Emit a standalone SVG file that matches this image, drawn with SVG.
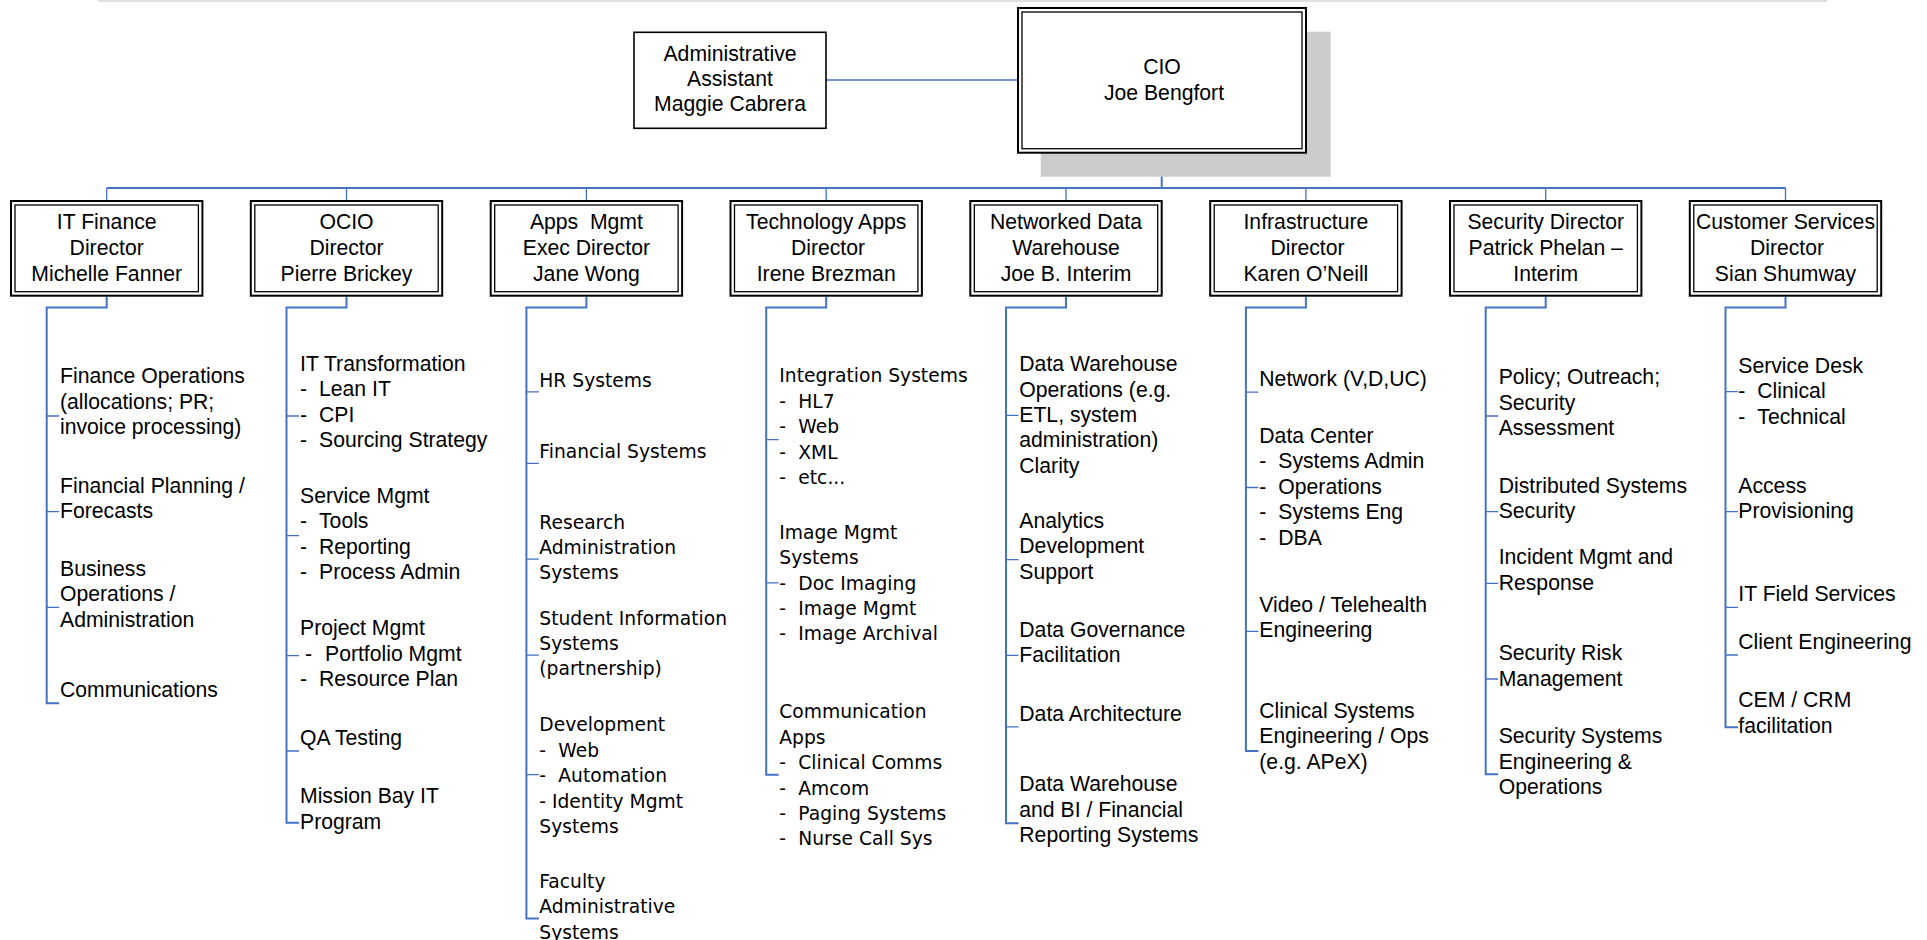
<svg xmlns="http://www.w3.org/2000/svg" width="1927" height="940" viewBox="0 0 1927 940">
  <style>
    .t { font-family: "Liberation Sans", Arial, sans-serif; font-size: 21.2px; fill: #000; }
    .v { font-family: "DejaVu Sans", Verdana, sans-serif; font-size: 18.7px; fill: #000; }
    .c { text-anchor: middle; }
    .bus { stroke: #4472C4; stroke-width: 2; fill: none; }
    .drop { stroke: #4472C4; stroke-width: 1.3; fill: none; }
    .tick { stroke: #4472C4; stroke-width: 1.3; fill: none; }
    .outer { fill: #fff; stroke: #000; stroke-width: 2; }
    .inner { fill: none; stroke: #000; stroke-width: 1.3; }
    .single { fill: #fff; stroke: #000; stroke-width: 1.6; }
  </style>

  <!-- header rule -->
  <line x1="98" y1="1" x2="1827" y2="1" stroke="#d4d4d4" stroke-width="1.5"/>

  <!-- connectors -->
  <g id="connectors">
    <line class="drop" x1="826" y1="80" x2="1018" y2="80"/>
    <line class="bus" x1="1161.7" y1="152.7" x2="1161.7" y2="188"/>
    <line class="bus" x1="106.7" y1="188" x2="1785.5" y2="188"/>
    <path class="drop" d="M106.7 188V200M346.5 188V200M586.4 188V200M826.2 188V200M1066 188V200M1305.9 188V200M1545.7 188V200M1785.5 188V200"/>

    <!-- director to list trunks -->
    <path class="bus" d="M106.7 296.7V307.5H46.7V703.3H59.2"/>
    <path class="bus" d="M346.5 296.7V307.5H286.5V822.7H299"/>
    <path class="bus" d="M586.4 296.7V307.5H526.4V918.4H538.9"/>
    <path class="bus" d="M826.2 296.7V307.5H766.2V774.7H778.7"/>
    <path class="bus" d="M1066 296.7V307.5H1006V823.2H1018.5"/>
    <path class="bus" d="M1305.9 296.7V307.5H1245.9V751H1258.4"/>
    <path class="bus" d="M1545.7 296.7V307.5H1485.7V774.3H1498.2"/>
    <path class="bus" d="M1785.5 296.7V307.5H1725.5V727.3H1738"/>

    <!-- item ticks -->
    <path class="tick" d="M46.7 416H59.2M46.7 511.7H59.2M46.7 607.3H59.2"/>
    <path class="tick" d="M286.5 416H299M286.5 535.7H299M286.5 655.7H299M286.5 751H299"/>
    <path class="tick" d="M526.4 391.8H538.9M526.4 463.3H538.9M526.4 559.2H538.9M526.4 655.1H538.9M526.4 774.7H538.9"/>
    <path class="tick" d="M766.2 439.6H778.7M766.2 582.9H778.7"/>
    <path class="tick" d="M1006 415.4H1018.5M1006 559.6H1018.5M1006 655.4H1018.5M1006 726.8H1018.5"/>
    <path class="tick" d="M1245.9 392.1H1258.4M1245.9 487.5H1258.4M1245.9 631.4H1258.4"/>
    <path class="tick" d="M1485.7 416H1498.2M1485.7 511.7H1498.2M1485.7 583.3H1498.2M1485.7 679H1498.2"/>
    <path class="tick" d="M1725.5 391.7H1738M1725.5 511.7H1738M1725.5 607.3H1738M1725.5 655H1738"/>
  </g>

  <!-- administrative assistant -->
  <g id="admin-assistant">
    <rect class="single" x="634" y="32.3" width="192" height="96"/>
    <text class="t c" x="730" y="60.7">Administrative</text>
    <text class="t c" x="730" y="86">Assistant</text>
    <text class="t c" x="730" y="111.3">Maggie Cabrera</text>
  </g>

  <!-- CIO -->
  <g id="cio">
    <rect x="1040.7" y="31.7" width="290" height="145" fill="#cccccc"/>
    <rect class="outer" x="1018" y="8" width="288" height="144.7"/>
    <rect class="inner" x="1022" y="12" width="280" height="136.7"/>
    <text class="t c" x="1162" y="74">CIO</text>
    <text class="t c" x="1164" y="100">Joe Bengfort</text>
  </g>

  <!-- directors -->
  <g id="it-finance">
    <rect class="outer" x="11" y="201" width="191.4" height="94.7"/>
    <rect class="inner" x="15" y="205" width="183.4" height="86.7"/>
    <text class="t c" x="106.7" y="229.3">IT Finance</text>
    <text class="t c" x="106.7" y="255">Director</text>
    <text class="t c" x="106.7" y="280.5">Michelle Fanner</text>
  </g>
  <g id="ocio">
    <rect class="outer" x="250.8" y="201" width="191.4" height="94.7"/>
    <rect class="inner" x="254.8" y="205" width="183.4" height="86.7"/>
    <text class="t c" x="346.5" y="229.3">OCIO</text>
    <text class="t c" x="346.5" y="255">Director</text>
    <text class="t c" x="346.5" y="280.5">Pierre Brickey</text>
  </g>
  <g id="apps-mgmt">
    <rect class="outer" x="490.7" y="201" width="191.4" height="94.7"/>
    <rect class="inner" x="494.7" y="205" width="183.4" height="86.7"/>
    <text class="t c" x="586.4" y="229.3" xml:space="preserve">Apps  Mgmt</text>
    <text class="t c" x="586.4" y="255">Exec Director</text>
    <text class="t c" x="586.4" y="280.5">Jane Wong</text>
  </g>
  <g id="technology-apps">
    <rect class="outer" x="730.5" y="201" width="191.4" height="94.7"/>
    <rect class="inner" x="734.5" y="205" width="183.4" height="86.7"/>
    <text class="t c" x="826.2" y="229.3">Technology Apps</text>
    <text class="t c" x="828" y="255">Director</text>
    <text class="t c" x="826.2" y="280.5">Irene Brezman</text>
  </g>
  <g id="networked-data-warehouse">
    <rect class="outer" x="970.3" y="201" width="191.4" height="94.7"/>
    <rect class="inner" x="974.3" y="205" width="183.4" height="86.7"/>
    <text class="t c" x="1066" y="229.3">Networked Data</text>
    <text class="t c" x="1066" y="255">Warehouse</text>
    <text class="t c" x="1066" y="280.5">Joe B. Interim</text>
  </g>
  <g id="infrastructure">
    <rect class="outer" x="1210.2" y="201" width="191.4" height="94.7"/>
    <rect class="inner" x="1214.2" y="205" width="183.4" height="86.7"/>
    <text class="t c" x="1305.9" y="229.3">Infrastructure</text>
    <text class="t c" x="1307.5" y="255">Director</text>
    <text class="t c" x="1305.9" y="280.5">Karen O’Neill</text>
  </g>
  <g id="security">
    <rect class="outer" x="1450" y="201" width="191.4" height="94.7"/>
    <rect class="inner" x="1454" y="205" width="183.4" height="86.7"/>
    <text class="t c" x="1545.7" y="229.3">Security Director</text>
    <text class="t c" x="1545.7" y="255">Patrick Phelan –</text>
    <text class="t c" x="1545.7" y="280.5">Interim</text>
  </g>
  <g id="customer-services">
    <rect class="outer" x="1689.8" y="201" width="191.4" height="94.7"/>
    <rect class="inner" x="1693.8" y="205" width="183.4" height="86.7"/>
    <text class="t c" x="1785.5" y="229.3">Customer Services</text>
    <text class="t c" x="1787" y="255">Director</text>
    <text class="t c" x="1785.5" y="280.5">Sian Shumway</text>
  </g>

  <!-- IT Finance functions -->
  <g id="it-finance-items" class="t">
    <text x="60" y="383.3">Finance Operations</text>
    <text x="60" y="408.8">(allocations; PR;</text>
    <text x="60" y="434.3">invoice processing)</text>
    <text x="60" y="492.7">Financial Planning /</text>
    <text x="60" y="518.2">Forecasts</text>
    <text x="60" y="575.8">Business</text>
    <text x="60" y="601.3">Operations /</text>
    <text x="60" y="626.8">Administration</text>
    <text x="60" y="696.7">Communications</text>
  </g>

  <!-- OCIO functions -->
  <g id="ocio-items" class="t">
    <text x="300" y="370.7">IT Transformation</text>
    <text y="396.2"><tspan x="300">-</tspan><tspan x="319">Lean IT</tspan></text>
    <text y="421.7"><tspan x="300">-</tspan><tspan x="319">CPI</tspan></text>
    <text y="447.2"><tspan x="300">-</tspan><tspan x="319">Sourcing Strategy</tspan></text>
    <text x="300" y="502.7">Service Mgmt</text>
    <text y="528.2"><tspan x="300">-</tspan><tspan x="319">Tools</tspan></text>
    <text y="553.7"><tspan x="300">-</tspan><tspan x="319">Reporting</tspan></text>
    <text y="579.2"><tspan x="300">-</tspan><tspan x="319">Process Admin</tspan></text>
    <text x="300" y="635">Project Mgmt</text>
    <text y="660.5"><tspan x="305">-</tspan><tspan x="325">Portfolio Mgmt</tspan></text>
    <text y="686"><tspan x="300">-</tspan><tspan x="319">Resource Plan</tspan></text>
    <text x="300" y="745">QA Testing</text>
    <text x="300" y="803.3">Mission Bay IT</text>
    <text x="300" y="828.8">Program</text>
  </g>

  <!-- Apps Mgmt functions -->
  <g id="apps-mgmt-items" class="v">
    <text x="539.3" y="386.5">HR Systems</text>
    <text x="539.3" y="458">Financial Systems</text>
    <text x="539.3" y="528.6">Research</text>
    <text x="539.3" y="554">Administration</text>
    <text x="539.3" y="579.4">Systems</text>
    <text x="539.3" y="624.5">Student Information</text>
    <text x="539.3" y="649.9">Systems</text>
    <text x="539.3" y="675.3">(partnership)</text>
    <text x="539.3" y="731.4">Development</text>
    <text y="756.8"><tspan x="539.3">-</tspan><tspan x="558.3">Web</tspan></text>
    <text y="782.2"><tspan x="539.3">-</tspan><tspan x="558.3">Automation</tspan></text>
    <text x="539.3" y="807.6">- Identity Mgmt</text>
    <text x="539.3" y="833">Systems</text>
    <text x="539.3" y="887.8">Faculty</text>
    <text x="539.3" y="913.2">Administrative</text>
    <text x="539.3" y="938.6">Systems</text>
  </g>

  <!-- Technology Apps functions -->
  <g id="technology-apps-items" class="v">
    <text x="779.3" y="382.4">Integration Systems</text>
    <text y="407.8"><tspan x="779.3">-</tspan><tspan x="798.3">HL7</tspan></text>
    <text y="433.2"><tspan x="779.3">-</tspan><tspan x="798.3">Web</tspan></text>
    <text y="458.6"><tspan x="779.3">-</tspan><tspan x="798.3">XML</tspan></text>
    <text y="484"><tspan x="779.3">-</tspan><tspan x="798.3">etc...</tspan></text>
    <text x="779.3" y="538.8">Image Mgmt</text>
    <text x="779.3" y="564.2">Systems</text>
    <text y="589.6"><tspan x="779.3">-</tspan><tspan x="798.3">Doc Imaging</tspan></text>
    <text y="615"><tspan x="779.3">-</tspan><tspan x="798.3">Image Mgmt</tspan></text>
    <text y="640.4"><tspan x="779.3">-</tspan><tspan x="798.3">Image Archival</tspan></text>
    <text x="779.3" y="718.4">Communication</text>
    <text x="779.3" y="743.8">Apps</text>
    <text y="769.2"><tspan x="779.3">-</tspan><tspan x="798.3">Clinical Comms</tspan></text>
    <text y="794.6"><tspan x="779.3">-</tspan><tspan x="798.3">Amcom</tspan></text>
    <text y="820"><tspan x="779.3">-</tspan><tspan x="798.3">Paging Systems</tspan></text>
    <text y="845.4"><tspan x="779.3">-</tspan><tspan x="798.3">Nurse Call Sys</tspan></text>
  </g>

  <!-- Networked Data Warehouse functions -->
  <g id="networked-data-warehouse-items" class="t">
    <text x="1019.3" y="371.4">Data Warehouse</text>
    <text x="1019.3" y="396.7">Operations (e.g.</text>
    <text x="1019.3" y="422">ETL, system</text>
    <text x="1019.3" y="447.3">administration)</text>
    <text x="1019.3" y="472.6">Clarity</text>
    <text x="1019.3" y="527.9">Analytics</text>
    <text x="1019.3" y="553.2">Development</text>
    <text x="1019.3" y="578.5">Support</text>
    <text x="1019.3" y="636.5">Data Governance</text>
    <text x="1019.3" y="661.8">Facilitation</text>
    <text x="1019.3" y="721.4">Data Architecture</text>
    <text x="1019.3" y="791">Data Warehouse</text>
    <text x="1019.3" y="816.5">and BI / Financial</text>
    <text x="1019.3" y="842">Reporting Systems</text>
  </g>

  <!-- Infrastructure functions -->
  <g id="infrastructure-items" class="t">
    <text x="1259.3" y="385.7">Network (V,D,UC)</text>
    <text x="1259.3" y="442.9">Data Center</text>
    <text y="468.3"><tspan x="1259.3">-</tspan><tspan x="1278.3">Systems Admin</tspan></text>
    <text y="493.7"><tspan x="1259.3">-</tspan><tspan x="1278.3">Operations</tspan></text>
    <text y="519.1"><tspan x="1259.3">-</tspan><tspan x="1278.3">Systems Eng</tspan></text>
    <text y="544.5"><tspan x="1259.3">-</tspan><tspan x="1278.3">DBA</tspan></text>
    <text x="1259.3" y="611.8">Video / Telehealth</text>
    <text x="1259.3" y="637.3">Engineering</text>
    <text x="1259.3" y="717.9">Clinical Systems</text>
    <text x="1259.3" y="743.4">Engineering / Ops</text>
    <text x="1259.3" y="768.9">(e.g. APeX)</text>
  </g>

  <!-- Security functions -->
  <g id="security-items" class="t">
    <text x="1498.7" y="384">Policy; Outreach;</text>
    <text x="1498.7" y="409.5">Security</text>
    <text x="1498.7" y="435">Assessment</text>
    <text x="1498.7" y="492.7">Distributed Systems</text>
    <text x="1498.7" y="518.2">Security</text>
    <text x="1498.7" y="564.3">Incident Mgmt and</text>
    <text x="1498.7" y="589.8">Response</text>
    <text x="1498.7" y="660">Security Risk</text>
    <text x="1498.7" y="685.5">Management</text>
    <text x="1498.7" y="743.3">Security Systems</text>
    <text x="1498.7" y="768.8">Engineering &amp;</text>
    <text x="1498.7" y="794.3">Operations</text>
  </g>

  <!-- Customer Services functions -->
  <g id="customer-services-items" class="t">
    <text x="1738.3" y="372.7">Service Desk</text>
    <text y="398.2"><tspan x="1738.3">-</tspan><tspan x="1757.3">Clinical</tspan></text>
    <text y="423.7"><tspan x="1738.3">-</tspan><tspan x="1757.3">Technical</tspan></text>
    <text x="1738.3" y="492.7">Access</text>
    <text x="1738.3" y="518.2">Provisioning</text>
    <text x="1738.3" y="601">IT Field Services</text>
    <text x="1738.3" y="649.3">Client Engineering</text>
    <text x="1738.3" y="707.3">CEM / CRM</text>
    <text x="1738.3" y="732.8">facilitation</text>
  </g>
</svg>
